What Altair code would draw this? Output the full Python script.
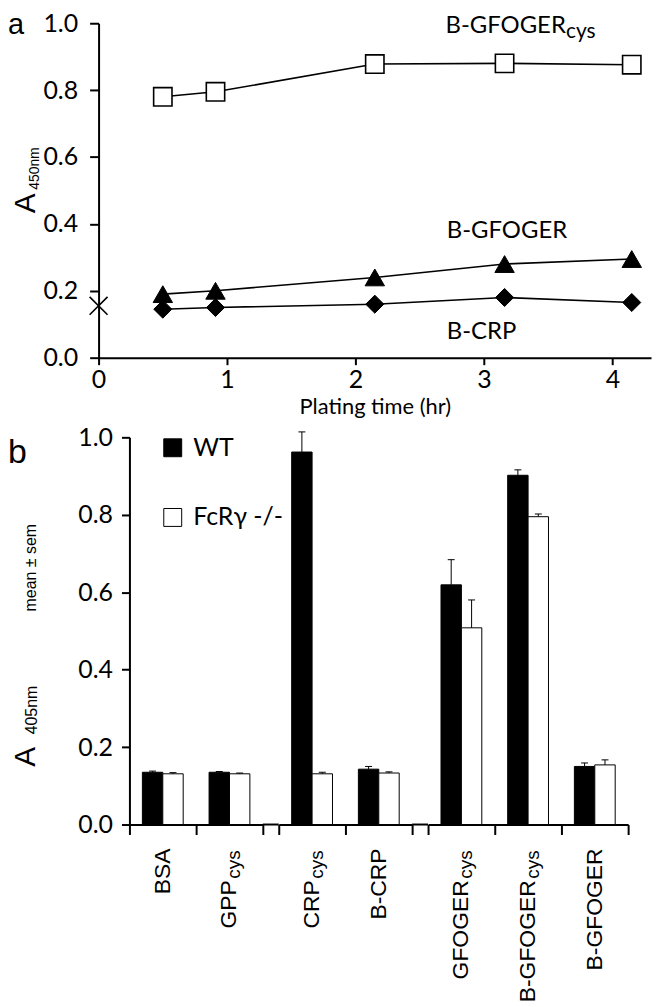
import altair as alt
import pandas as pd

FONT = "Lato"
SANS = "Liberation Sans"

# ---------------- Panel a data ----------------
plating_hours = [0.50, 0.91, 2.15, 3.16, 4.15]
b_gfoger_cys = [0.780, 0.795, 0.878, 0.880, 0.876]
b_gfoger = [0.190, 0.200, 0.240, 0.280, 0.295]
b_crp = [0.145, 0.150, 0.160, 0.180, 0.165]
series_names = ["B-GFOGERcys", "B-GFOGER", "B-CRP"]
background_hour = [0.0]
background_value = [0.155]
label_main = ["B-GFOGER", "B-GFOGER", "B-CRP"]
label_sub = ["cys", "", ""]
label_hour = [2.70, 2.71, 2.71]
label_value = [0.972, 0.357, 0.055]
x_ticks_a = [0, 1, 2, 3, 4]
y_ticks = [0.0, 0.2, 0.4, 0.6, 0.8, 1.0]

# ---------------- Panel b data ----------------
substrates = ["BSA", "GPPcys", "CRPcys", "B-CRP", "GFOGERcys", "B-GFOGERcys", "B-GFOGER"]
substrate_group = [0, 0, 1, 1, 2, 2, 2]
genotypes = ["WT", "FcRγ -/-"]
wt_mean = [0.135, 0.135, 0.962, 0.143, 0.619, 0.902, 0.150]
wt_sem = [0.003, 0.002, 0.052, 0.007, 0.065, 0.014, 0.009]
ko_mean = [0.131, 0.131, 0.131, 0.133, 0.508, 0.795, 0.154]
ko_sem = [0.003, 0.002, 0.004, 0.003, 0.072, 0.007, 0.013]

# ---------------- tables ----------------
top_df = pd.DataFrame({
    "hour": plating_hours * 3,
    "value": b_gfoger_cys + b_gfoger + b_crp,
    "series": [s for s in series_names for _ in plating_hours],
})
bg_df = pd.DataFrame({"hour": background_hour, "value": background_value})
lab_df = pd.DataFrame({"main": label_main, "sub": label_sub,
                       "hour": label_hour, "value": label_value})

rows = []
for i, s in enumerate(substrates):
    rows.append({"substrate": s, "group": substrate_group[i], "genotype": genotypes[0],
                 "mean": wt_mean[i], "upper": wt_mean[i] + wt_sem[i]})
    rows.append({"substrate": s, "group": substrate_group[i], "genotype": genotypes[1],
                 "mean": ko_mean[i], "upper": ko_mean[i] + ko_sem[i]})
bars_df = pd.DataFrame(rows)
cat_df = pd.DataFrame({
    "substrate": substrates,
    "group": substrate_group,
    "main": [s[:-3] if s.endswith("cys") else s for s in substrates],
    "sub": ["cys" if s.endswith("cys") else "" for s in substrates],
})
one = pd.DataFrame({"t": [""]})
NOVIEW = alt.ViewBackground(stroke="transparent", strokeWidth=0)

# ---------------- Panel a ----------------
W_A, H_A = 555, 336
x_a = alt.X("hour:Q", scale=alt.Scale(domain=[0, 4.3], nice=False, zero=False),
            axis=alt.Axis(values=x_ticks_a, format="d", title="Plating time (hr)",
                          titleFont=FONT, titleFontSize=22, titleFontWeight="normal",
                          titleColor="black", titlePadding=4, labelFont=FONT,
                          labelFontSize=25, labelColor="black", labelPadding=3,
                          labelFlush=False, tickSize=7, tickWidth=2, tickColor="black",
                          domainWidth=2, domainColor="black", grid=False))
y_a = alt.Y("value:Q", scale=alt.Scale(domain=[0, 1], nice=False),
            axis=alt.Axis(values=y_ticks, format=".1f", title=None, labelFont=FONT,
                          labelFontSize=25, labelColor="black", labelPadding=12,
                          tickSize=9, tickWidth=2, tickColor="black",
                          domainWidth=2, domainColor="black", grid=False))

base = alt.Chart(top_df)
lines = base.mark_line(color="black", strokeWidth=1.6).encode(x=x_a, y=y_a, detail="series:N")
squares = base.transform_filter(alt.datum.series == "B-GFOGERcys").mark_point(
    shape="square", size=340, filled=True, fill="white", stroke="black",
    strokeWidth=1.6, opacity=1).encode(x="hour:Q", y="value:Q")
triangles = base.transform_filter(alt.datum.series == "B-GFOGER").mark_point(
    shape="triangle-up", size=380, filled=True, fill="black", stroke="black",
    strokeWidth=1, opacity=1).encode(x="hour:Q", y="value:Q")
diamonds = base.transform_filter(alt.datum.series == "B-CRP").mark_point(
    shape="diamond", size=330, filled=True, fill="black", stroke="black",
    strokeWidth=1, opacity=1).encode(x="hour:Q", y="value:Q")
cross = alt.Chart(bg_df).mark_point(
    shape="M-1,-1L1,1M-1,1L1,-1", size=324, filled=False, stroke="black",
    strokeWidth=1.6, opacity=1).encode(x="hour:Q", y="value:Q")
labels_main = alt.Chart(lab_df).mark_text(
    align="left", baseline="alphabetic", font=FONT, fontSize=24, color="black"
).encode(x="hour:Q", y="value:Q", text="main:N")
labels_sub = alt.Chart(lab_df).transform_filter(alt.datum.sub != "").mark_text(
    align="left", baseline="alphabetic", font=FONT, fontSize=21, color="black",
    dx=121, dy=5).encode(x="hour:Q", y="value:Q", text="sub:N")

letter_a = alt.Chart(pd.DataFrame({"t": ["a"]})).mark_text(
    align="left", baseline="alphabetic", font=SANS, fontSize=29, color="black"
).encode(text="t:N", x=alt.value(-91), y=alt.value(11))
title_A = alt.Chart(pd.DataFrame({"t": ["A"]})).mark_text(
    align="center", baseline="middle", font=SANS, fontSize=30, angle=270, color="black"
).encode(text="t:N", x=alt.value(-73), y=alt.value(181))
title_sub = alt.Chart(pd.DataFrame({"t": ["450nm"]})).mark_text(
    align="center", baseline="middle", font=SANS, fontSize=14, angle=270, color="black"
).encode(text="t:N", x=alt.value(-64), y=alt.value(146))

top = alt.layer(lines, squares, triangles, diamonds, cross, labels_main, labels_sub,
                letter_a, title_A, title_sub).properties(width=W_A, height=H_A, view=NOVIEW)

# ---------------- Panel b ----------------
H_B = 389
STEP = 67
GAP = 16
legend_def = alt.Legend(orient="none", legendX=62, legendY=414, title=None,
                        symbolType="square", symbolSize=324, symbolStrokeColor="black",
                        symbolStrokeWidth=1, labelFont=FONT, labelFontSize=25,
                        labelColor="black", labelOffset=8, rowPadding=44, padding=0)


def bar_panel(g, first, bridge):
    cats = [s for s, gg in zip(substrates, substrate_group) if gg == g]
    w = STEP * len(cats)
    d = bars_df[bars_df["group"] == g]
    c = cat_df[cat_df["group"] == g]
    x = alt.X("substrate:N", sort=cats,
              scale=alt.Scale(domain=cats, paddingInner=0, paddingOuter=0),
              axis=alt.Axis(title=None, labels=False, ticks=True, tickBand="extent",
                            tickSize=10, tickWidth=2, tickColor="black",
                            domainWidth=2, domainColor="black", grid=False))
    if first:
        yaxis = alt.Axis(values=y_ticks, format=".1f", title=None, labelFont=FONT,
                         labelFontSize=25, labelColor="black", labelPadding=9,
                         tickSize=8, tickWidth=2, tickColor="black",
                         domainWidth=2, domainColor="black", grid=False)
    else:
        yaxis = None
    y = alt.Y("mean:Q", scale=alt.Scale(domain=[0, 1], nice=False), axis=yaxis)
    xo = alt.XOffset("genotype:N", sort=genotypes,
                     scale=alt.Scale(domain=genotypes, paddingOuter=0.634, paddingInner=0))
    fill = alt.Fill("genotype:N", sort=genotypes,
                    scale=alt.Scale(domain=genotypes, range=["black", "white"]),
                    legend=legend_def)
    b = alt.Chart(d)
    bars = b.mark_bar(stroke="black", strokeWidth=1).encode(x=x, y=y, xOffset=xo, fill=fill)
    err = b.mark_rule(color="black", strokeWidth=1).encode(
        x="substrate:N", xOffset=xo, y="mean:Q", y2="upper:Q")
    cap = b.mark_tick(color="black", thickness=1, size=7, opacity=1).encode(
        x="substrate:N", xOffset=xo, y="upper:Q")
    plain = alt.Chart(c).transform_filter(alt.datum.sub == "").mark_text(
        angle=270, align="right", baseline="middle", font=SANS, fontSize=23, color="black"
    ).encode(x="substrate:N", y=alt.value(H_B + 24), text="main:N")
    main_s = alt.Chart(c).transform_filter(alt.datum.sub != "").mark_text(
        angle=270, align="right", baseline="middle", font=SANS, fontSize=23, color="black"
    ).encode(x="substrate:N", y=alt.value(H_B + 56), text="main:N")
    sub_s = alt.Chart(c).transform_filter(alt.datum.sub != "").mark_text(
        angle=270, align="right", baseline="middle", font=SANS, fontSize=19, color="black",
        dy=5).encode(x="substrate:N", y=alt.value(H_B + 26), text="sub:N")
    layers = [bars, err, cap, plain, main_s, sub_s]
    if bridge:
        layers.append(alt.Chart(one).mark_rule(color="black", strokeWidth=2).encode(
            x=alt.value(w), x2=alt.value(w + GAP), y=alt.value(H_B)))
    if first:
        layers.append(alt.Chart(pd.DataFrame({"t": ["b"]})).mark_text(
            align="left", baseline="alphabetic", font=SANS, fontSize=34, color="black"
        ).encode(text="t:N", x=alt.value(-122), y=alt.value(26)))
        layers.append(alt.Chart(pd.DataFrame({"t": ["A"]})).mark_text(
            align="center", baseline="middle", font=SANS, fontSize=30, angle=270,
            color="black").encode(text="t:N", x=alt.value(-104), y=alt.value(321)))
        layers.append(alt.Chart(pd.DataFrame({"t": ["405nm"]})).mark_text(
            align="center", baseline="middle", font=SANS, fontSize=16, angle=270,
            color="black").encode(text="t:N", x=alt.value(-98), y=alt.value(274)))
        layers.append(alt.Chart(pd.DataFrame({"t": ["mean ± sem"]})).mark_text(
            align="center", baseline="middle", font=SANS, fontSize=16, angle=270,
            color="black").encode(text="t:N", x=alt.value(-99), y=alt.value(131)))
    return alt.layer(*layers).properties(width=w, height=H_B, view=NOVIEW)


spacer = alt.Chart(one).mark_point(opacity=0).encode(
    x=alt.value(0), y=alt.value(0)).properties(width=15, height=H_B, view=NOVIEW)

bottom = alt.hconcat(spacer, bar_panel(0, True, True), bar_panel(1, False, True),
                     bar_panel(2, False, False), spacing=GAP, bounds="flush")

chart = alt.vconcat(top, bottom, spacing=80, bounds="flush").properties(
    padding={"left": 0, "top": 1, "right": 5, "bottom": 0}
).configure_view(stroke="transparent", strokeWidth=0).configure_axis(
    grid=False).configure(font=FONT)

chart.save("out.html", embed_options={"renderer": "svg", "actions": False})
